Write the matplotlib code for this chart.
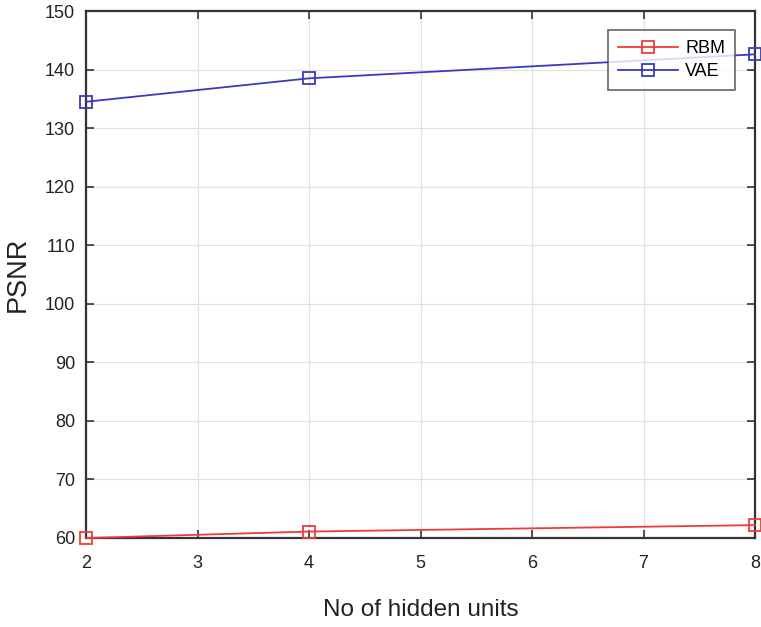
import matplotlib
matplotlib.use("Agg")
import matplotlib.pyplot as plt

plt.rcParams['font.family'] = ['Liberation Sans', 'DejaVu Sans']

hidden_units = [2, 4, 8]
rbm_psnr = [60.0, 61.1, 62.2]
vae_psnr = [134.5, 138.5, 142.6]
x_ticks = [2, 3, 4, 5, 6, 7, 8]
y_ticks = [60, 70, 80, 90, 100, 110, 120, 130, 140, 150]

fig = plt.figure(figsize=(7.61, 6.27), dpi=100)
ax = fig.add_axes([86 / 761, 1 - 538 / 627, (755 - 86) / 761, (538 - 11) / 627])

ax.plot(hidden_units, rbm_psnr, color='#f03a3a', lw=1.3, marker='s', ms=8,
        mfc='none', mec='#f03a3a', mew=1.3, label='RBM', clip_on=False, zorder=3)
ax.plot(hidden_units, vae_psnr, color='#3a3ac0', lw=1.3, marker='s', ms=8,
        mfc='none', mec='#3a3ac0', mew=1.3, label='VAE', clip_on=False, zorder=3)

ax.set_xlim(2, 8)
ax.set_ylim(60, 150)
ax.set_xticks(x_ticks)
ax.set_yticks(y_ticks)
ax.grid(True, color='#e0e0e0', lw=0.9)
ax.set_axisbelow(True)

for s in ax.spines.values():
    s.set_color('#333333')
    s.set_linewidth(1.6)
ax.tick_params(direction='in', top=True, right=True, length=6, width=1.2,
               color='#333333', labelsize=13, labelcolor='#222222')
ax.tick_params(axis='y', pad=8)
ax.tick_params(axis='x', pad=12)

ax.set_xlabel('No of hidden units', fontsize=17.5, color='#222222', labelpad=20)
ax.set_ylabel('PSNR', fontsize=19.5, color='#222222', labelpad=10)

leg = ax.legend(loc='upper right', fontsize=13, frameon=True, fancybox=False,
                edgecolor='#404040', handlelength=3.3, borderpad=0.55,
                labelspacing=0.35, handletextpad=0.4, borderaxespad=0)
leg.set_bbox_to_anchor((735 / 761, 1 - 30 / 627), transform=fig.transFigure)
leg.get_frame().set_linewidth(1.2)

fig.savefig('out.png', dpi=100)
